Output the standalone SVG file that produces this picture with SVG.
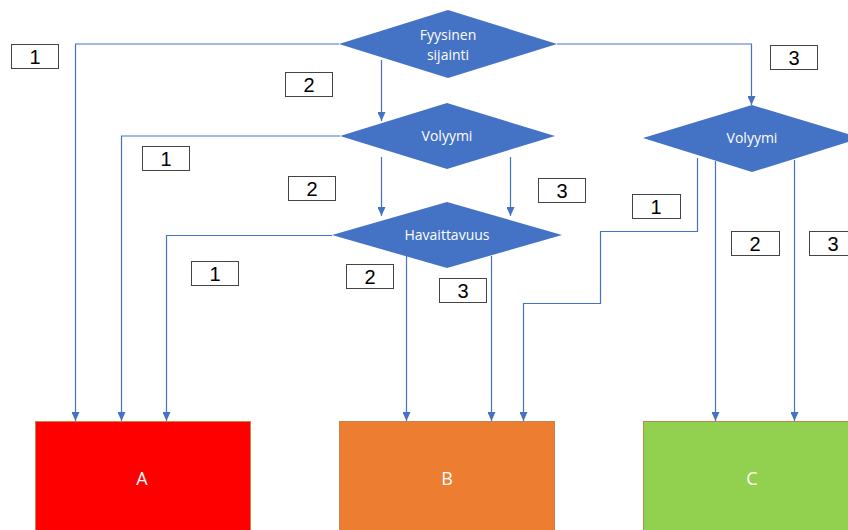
<svg xmlns="http://www.w3.org/2000/svg" width="848" height="530" viewBox="0 0 848 530">
<style>
.dia{fill:#4472C4;}
.dt{fill:#fff;font-family:"Open Sans","Liberation Sans",sans-serif;font-size:14px;text-anchor:middle;}
.conn path{fill:none;stroke:#4472C4;stroke-width:1.2;}
.conn path.ar{marker-end:url(#ah);}
.lb rect{fill:#fff;stroke:#444;stroke-width:1;}
.lb text{fill:#000;font-family:"Liberation Sans",sans-serif;font-size:20px;text-anchor:middle;}
.bx{stroke:#C0864E;stroke-width:1;}
.bt{fill:#fff;font-family:"Open Sans","Liberation Sans",sans-serif;font-size:18px;text-anchor:middle;}
</style>
<defs>
<marker id="ah" markerWidth="9" markerHeight="8" refX="9" refY="4" orient="auto" markerUnits="userSpaceOnUse" viewBox="0 0 9 8">
<path d="M0,0 L9,4 L0,8 Z" fill="#4472C4"/>
</marker>
</defs>
<g class="conn">
<path class="ar" d="M339,44 H75.5 V421"/>
<path class="ar" d="M557,44 H751.5 V105"/>
<path class="ar" d="M381.5,60 V121"/>
<path class="ar" d="M340,136 H121.5 V421"/>
<path class="ar" d="M381.5,157 V216"/>
<path class="ar" d="M510.5,157 V216"/>
<path class="ar" d="M332,235.5 H166.5 V421"/>
<path class="ar" d="M406.5,256 V421"/>
<path class="ar" d="M491.5,256 V421"/>
<path class="ar" d="M697.5,158 V231.5 H600.5 V303.5 H523.5 V421"/>
<path class="ar" d="M715.5,161 V421"/>
<path class="ar" d="M794.5,160 V421"/>
</g>
<g id="d1"><polygon class="dia" points="339,44 448,10 557,44 448,78"/><text class="dt" x="448" y="40">Fyysinen</text><text class="dt" x="448" y="60">sijainti</text></g>
<g id="d2"><polygon class="dia" points="340,136 447,103 555,136 447,169"/><text class="dt" x="447" y="141">Volyymi</text></g>
<g id="d3"><polygon class="dia" points="332,235 447,202 562,235 447,268"/><text class="dt" x="447" y="240">Havaittavuus</text></g>
<g id="d4"><polygon class="dia" points="643,138 752,105 861,138 752,172"/><text class="dt" x="752" y="143">Volyymi</text></g>
<g id="A"><rect class="bx" x="35.5" y="421.5" width="215" height="120" fill="#FF0000"/><text class="bt" x="142" y="485">A</text></g>
<g id="B"><rect class="bx" x="339.5" y="421.5" width="215" height="120" fill="#ED7D31"/><text class="bt" x="447" y="485">B</text></g>
<g id="C"><rect class="bx" x="643.5" y="421.5" width="215" height="120" fill="#92D050"/><text class="bt" x="752" y="485">C</text></g>
<g class="lb" id="labels">
<rect x="11.5" y="44.5" width="47" height="24"/><text x="35" y="64">1</text>
<rect x="285.5" y="72.5" width="47" height="24"/><text x="309" y="92">2</text>
<rect x="770.5" y="45.5" width="47" height="24"/><text x="794" y="65">3</text>
<rect x="142.5" y="146.5" width="47" height="24"/><text x="166" y="166">1</text>
<rect x="288.5" y="176.5" width="47" height="24"/><text x="312" y="196">2</text>
<rect x="538.5" y="178.5" width="47" height="24"/><text x="562" y="198">3</text>
<rect x="191.5" y="261.5" width="47" height="24"/><text x="215" y="281">1</text>
<rect x="346.5" y="264.5" width="47" height="24"/><text x="370" y="284">2</text>
<rect x="439.5" y="278.5" width="47" height="24"/><text x="463" y="298">3</text>
<rect x="632.5" y="194.5" width="48" height="24"/><text x="656" y="214">1</text>
<rect x="731.5" y="231.5" width="48" height="24"/><text x="755" y="251">2</text>
<rect x="809.5" y="231.5" width="48" height="24"/><text x="833" y="251">3</text>
</g>
</svg>
